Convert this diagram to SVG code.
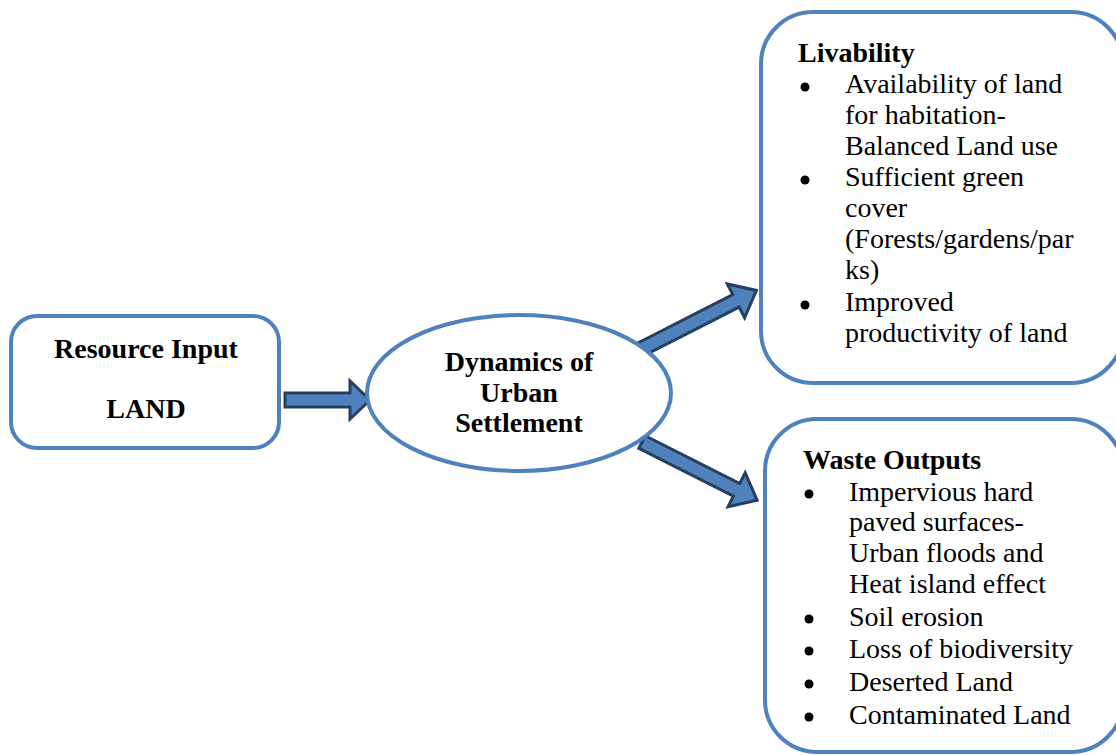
<svg xmlns="http://www.w3.org/2000/svg" width="1116" height="755" viewBox="0 0 1116 755">
<style>
.box{fill:#fff;stroke:#4f81bd;stroke-width:4}
.arr{fill:#4f81bd;stroke:#243f60;stroke-width:3;stroke-linejoin:miter}
.t{font-family:"Liberation Serif","Times New Roman",serif;font-size:28px;fill:#000}
.b{font-weight:bold}
.c{text-anchor:middle}
.dot{fill:#000}
</style>
<defs>
<path id="diag" d="M0,-7 L106,-7 L106,-19 L129,0 L106,19 L106,7 L0,7 Z"/>
</defs>
<rect width="1116" height="755" fill="#fff"/>
<g id="connectors">
<path class="arr" d="M285,393 L350,393 L350,381 L370,400 L350,419 L350,407 L285,407 Z"/>
<use href="#diag" class="arr" transform="translate(641.5,349) rotate(-27)"/>
<use href="#diag" class="arr" transform="translate(642,442) rotate(26.8)"/>
</g>
<g id="resource">
<rect class="box" x="11" y="316" width="268" height="132" rx="26"/>
<text class="t b c" x="146" y="358">Resource Input</text>
<text class="t b c" x="146" y="418">LAND</text>
</g>
<g id="dynamics">
<ellipse class="box" cx="519" cy="393" rx="152" ry="78"/>
<text class="t b c" x="519" y="371">Dynamics of</text>
<text class="t b c" x="519" y="402">Urban</text>
<text class="t b c" x="519" y="432">Settlement</text>
</g>
<g id="livability">
<rect class="box" x="761" y="12" width="362" height="371" rx="52"/>
<text class="t b" x="798" y="62">Livability</text>
<circle class="dot" cx="805" cy="87" r="4.5"/>
<text class="t" x="845" y="93">Availability of land</text>
<text class="t" x="845" y="124">for habitation-</text>
<text class="t" x="845" y="155">Balanced Land use</text>
<circle class="dot" cx="805" cy="180" r="4.5"/>
<text class="t" x="845" y="186">Sufficient green</text>
<text class="t" x="845" y="217">cover</text>
<text class="t" x="845" y="248">(Forests/gardens/par</text>
<text class="t" x="845" y="279">ks)</text>
<circle class="dot" cx="805" cy="305" r="4.5"/>
<text class="t" x="845" y="311">Improved</text>
<text class="t" x="845" y="342">productivity of land</text>
</g>
<g id="waste">
<rect class="box" x="765" y="419" width="358" height="333" rx="52"/>
<text class="t b" x="803" y="469">Waste Outputs</text>
<circle class="dot" cx="809" cy="494" r="4.5"/>
<text class="t" x="849" y="501">Impervious hard</text>
<text class="t" x="849" y="531">paved surfaces-</text>
<text class="t" x="849" y="562">Urban floods and</text>
<text class="t" x="849" y="593">Heat island effect</text>
<circle class="dot" cx="809" cy="619" r="4.5"/>
<text class="t" x="849" y="626">Soil erosion</text>
<circle class="dot" cx="809" cy="651" r="4.5"/>
<text class="t" x="849" y="658">Loss of biodiversity</text>
<circle class="dot" cx="809" cy="684" r="4.5"/>
<text class="t" x="849" y="691">Deserted Land</text>
<circle class="dot" cx="809" cy="717" r="4.5"/>
<text class="t" x="849" y="724">Contaminated Land</text>
</g>
</svg>
